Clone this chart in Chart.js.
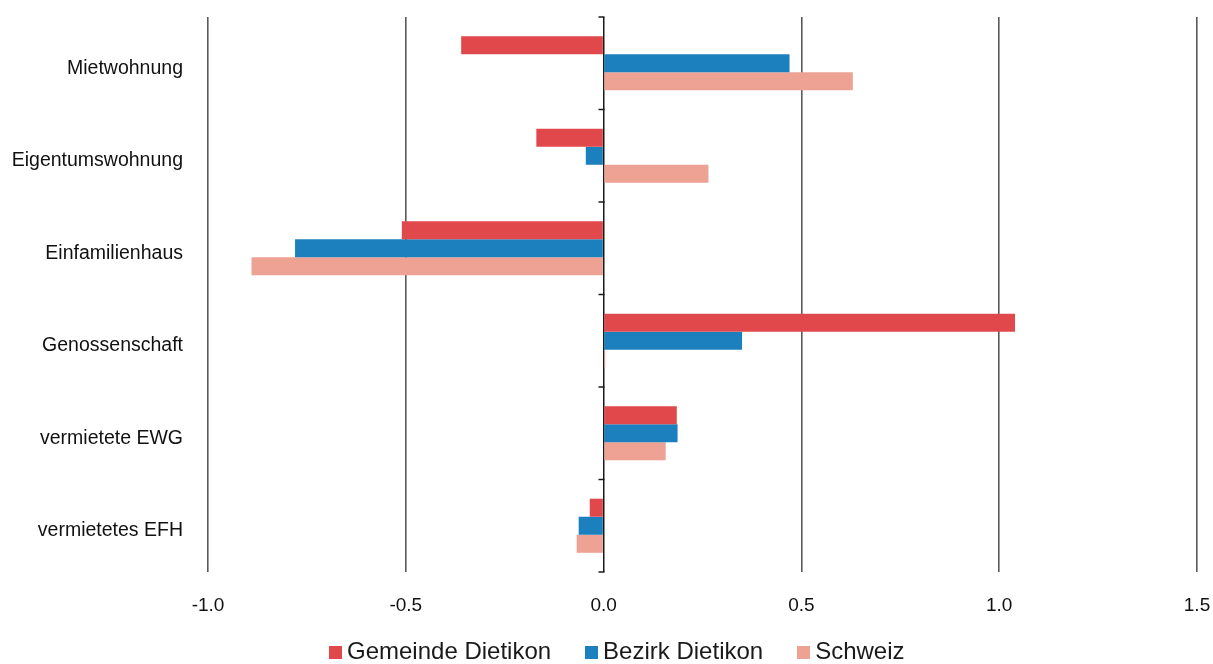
<!DOCTYPE html>
<html><head><meta charset="utf-8">
<script src="https://cdn.jsdelivr.net/npm/chart.js@4.4.1/dist/chart.umd.min.js"></script>
<style>
html,body{margin:0;padding:0;background:#fff;}
#wrap{position:relative;width:1213px;height:664px;}
#c{position:absolute;left:0;top:0;}
#legend{position:absolute;left:329px;top:637px;display:flex;font-family:'Liberation Sans',Arial,sans-serif;font-size:24px;color:#1a1a1a;white-space:nowrap;}
.li{display:flex;align-items:center;margin-right:34px;}
.bx{width:13px;height:13px;margin-right:5px;margin-top:3px;}
</style></head>
<body><div id="wrap"><canvas id="c" width="1213" height="664"></canvas><div id="legend"></div></div>
<script>
const categories = ['Mietwohnung','Eigentumswohnung','Einfamilienhaus','Genossenschaft','vermietete EWG','vermietetes EFH'];
const seriesNames = ['Gemeinde Dietikon','Bezirk Dietikon','Schweiz'];
const gemeinde = [-0.36, -0.17, -0.51, 1.04, 0.185, -0.035];
const bezirk = [0.47, -0.045, -0.78, 0.35, 0.187, -0.063];
const schweiz = [0.63, 0.265, -0.89, 0.004, 0.157, -0.068];
const xTicks = [-1.0, -0.5, 0.0, 0.5, 1.0, 1.5];
const colors = ['#e1484b', '#1c80bf', '#eea294'];

const FONT = "'Liberation Sans', Arial, sans-serif";

const boundaryTicks = {
  id: 'boundaryTicks',
  afterDatasetsDraw(chart) {
    const ctx = chart.ctx, xs = chart.scales.x, ys = chart.scales.y;
    const x0 = Math.round(xs.getPixelForValue(0)) + 0.5;
    ctx.save();
    ctx.strokeStyle = '#1a1a1a';
    ctx.lineWidth = 1.5;
    for (let i = 0; i <= categories.length; i++) {
      const y = ys.getPixelForValue(i - 0.5);
      ctx.beginPath();
      ctx.moveTo(x0 - 6, y);
      ctx.lineTo(x0, y);
      ctx.stroke();
    }
    ctx.restore();
  }
};

new Chart(document.getElementById('c'), {
  type: 'bar',
  data: {
    labels: categories,
    datasets: [
      {label: seriesNames[0], data: gemeinde, backgroundColor: colors[0]},
      {label: seriesNames[1], data: bezirk, backgroundColor: colors[1]},
      {label: seriesNames[2], data: schweiz, backgroundColor: colors[2]}
    ]
  },
  options: {
    indexAxis: 'y',
    responsive: false,
    animation: false,
    maintainAspectRatio: false,
    layout: {padding: {left: 0, right: 16, top: 17, bottom: 50}},
    datasets: {bar: {barPercentage: 1.0, categoryPercentage: 0.585, borderWidth: 0}},
    plugins: {legend: {display: false}, tooltip: {enabled: false}},
    scales: {
      x: {
        min: -1.0, max: 1.5,
        afterBuildTicks(scale) { scale.ticks = xTicks.map(v => ({value: v})); },
        afterFit(scale) { scale.height = 42; scale.paddingLeft = 0; scale.paddingRight = 0; },
        grid: {
          drawTicks: false,
          color: ctx => (ctx.tick && ctx.tick.value === 0) ? '#1a1a1a' : '#5a5a5a',
          lineWidth: ctx => (ctx.tick && ctx.tick.value === 0) ? 1.5 : 1.6
        },
        border: {display: false},
        ticks: {
          padding: 22,
          color: '#111',
          font: {family: FONT, size: 19},
          callback: v => Number(v).toFixed(1)
        }
      },
      y: {
        afterFit(scale) { scale.width = 208; scale.paddingTop = 0; scale.paddingBottom = 0; },
        grid: {display: false, drawTicks: false},
        border: {display: false},
        ticks: {
          padding: 25,
          labelOffset: 5,
          color: '#111',
          font: {family: FONT, size: 19.5}
        }
      }
    }
  },
  plugins: [boundaryTicks]
});

const lg = document.getElementById('legend');
seriesNames.forEach((n, i) => {
  const it = document.createElement('div'); it.className = 'li';
  const b = document.createElement('div'); b.className = 'bx'; b.style.background = colors[i];
  const t = document.createElement('span'); t.textContent = n;
  it.appendChild(b); it.appendChild(t); lg.appendChild(it);
});
</script></body></html>
